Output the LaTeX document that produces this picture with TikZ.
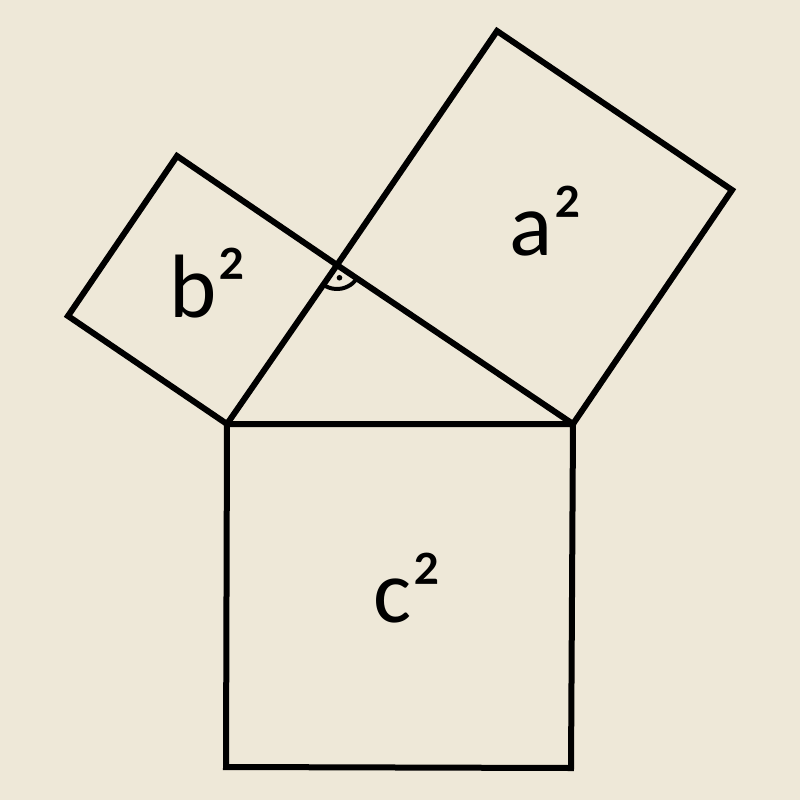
\documentclass[tikz,border=0pt]{standalone}
\usepackage{fontspec}
\setmainfont{Carlito}
\usetikzlibrary{calc}
\definecolor{bgc}{RGB}{238,232,216}
\tikzset{
  edge/.style={line width=6pt, line join=miter, draw=black},
  lab/.style={anchor=base, inner sep=0pt, font=\fontsize{90}{100}\selectfont},
}
\begin{document}
\begin{tikzpicture}[x=1pt,y=-1pt]
\fill[bgc] (0,0) rectangle (800,800);
\useasboundingbox (0,0) rectangle (800,800);
\coordinate (A) at (227,424);
\coordinate (B) at (573,424);
\coordinate (C) at (337,265);
\coordinate (A1) at (226,767);
\coordinate (B1) at (571,768);
\coordinate (Ca) at (497,31);
\coordinate (Ba) at (732,190);
\coordinate (Ab) at (68,316);
\coordinate (Cb) at (177,156);
% bottom square c^2
\draw[edge] (A) -- (B) -- (B1) -- (A1) -- cycle;
% square a^2
\draw[edge] (C) -- (Ca) -- (Ba) -- (B) -- cycle;
% square b^2
\draw[edge] (A) -- (C) -- (Cb) -- (Ab) -- cycle;
% right angle mark
\draw[line width=4pt] ($(C)+(34.1:24)$) arc[start angle=34.1, end angle=124.4, radius=24];
\fill ($(C)+(79:13)$) circle[radius=2.8];
\node[lab] (la) at (546,255) {a²};
\node[lab] (lb) at (208,317) {b²};
\node[lab] (lc) at (408,622) {c²};
\end{tikzpicture}
\end{document}
